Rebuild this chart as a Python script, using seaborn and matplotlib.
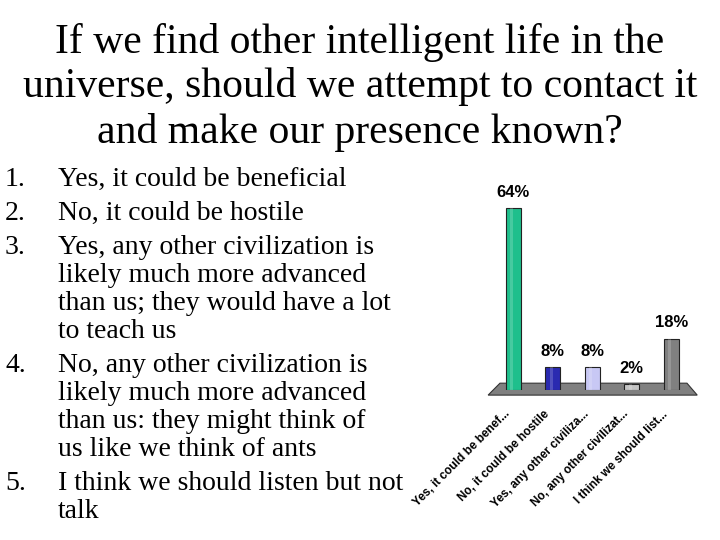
import numpy as np
import pandas as pd
import matplotlib
matplotlib.use("Agg")
import matplotlib.pyplot as plt
import matplotlib.transforms as mtransforms
import seaborn as sns
from matplotlib.patches import Polygon

# ──────────────────────────────────────────────
# Data
# ──────────────────────────────────────────────

TITLE = ("If we find other intelligent life in the\n"
         "universe, should we attempt to contact it\n"
         "and make our presence known?")

answers = [
    "Yes, it could be benef...",
    "No, it could be hostile",
    "Yes, any other civiliza...",
    "No, any other civilizat...",
    "I think we should list...",
]
percents = [64, 8, 8, 2, 18]
bar_colors = ["#1fbf8c", "#2a2ab0", "#c8c8f4", "#c4c4c4", "#808080"]

numbers = ["1.", "2.", "3.", "4.", "5."]
options = [
    ["Yes, it could be beneficial"],
    ["No, it could be hostile"],
    ["Yes, any other civilization is", "likely much more advanced",
     "than us; they would have a lot", "to teach us"],
    ["No, any other civilization is", "likely much more advanced",
     "than us: they might think of", "us like we think of ants"],
    ["I think we should listen but not", "talk"],
]

df = pd.DataFrame({"answer": answers, "pct": percents})

sns.set_style("white")
plt.rcParams["font.family"] = ["Liberation Sans", "DejaVu Sans"]
plt.rcParams["text.color"] = "black"
plt.rcParams["xtick.color"] = "black"

SERIF = ["Liberation Serif", "DejaVu Serif"]

fig = plt.figure(figsize=(7.2, 5.4), dpi=100)

# title
fig.text(0.5, 1 - 87 / 540, TITLE, ha="center", va="center",
         fontsize=30, family=SERIF, linespacing=1.2)

# numbered list on the left
y = 179
for num, lines in zip(numbers, options):
    fig.text(5 / 720, 1 - y / 540, num, ha="left", va="center",
             fontsize=20, family=SERIF)
    for i, line in enumerate(lines):
        fig.text(58 / 720, 1 - (y + i * 27.8) / 540, line, ha="left",
                 va="center", fontsize=20, family=SERIF)
    y += (len(lines) - 1) * 27.8 + 34.5

# bar chart
ax = fig.add_axes([488 / 720, 1 - 390 / 540, 212 / 720, 200 / 540])
ax.patch.set_alpha(0)

# floor
floor = Polygon([(-0.63, -1.8), (4.66, -1.8), (4.4, 2.4), (-0.33, 2.4)],
                closed=True, facecolor="#808080", edgecolor="#333333",
                lw=0.8, zorder=0, clip_on=False, transform=ax.transData)
ax.add_patch(floor)

sns.barplot(data=df, x="answer", y="pct", hue="answer", palette=bar_colors,
            legend=False, width=0.38, edgecolor="#222222", linewidth=0.8,
            saturation=1, ax=ax, zorder=2)

# subtle highlight to hint at cylinder shading
for p in list(ax.patches[1:]):
    x0, w, h = p.get_x(), p.get_width(), p.get_height()
    ax.bar(x0 + w * 0.3, h, width=w * 0.2, bottom=0, align="edge",
           color="white", alpha=0.18, lw=0, zorder=3)

for i, v in enumerate(percents):
    ax.text(i, v + 3.0, f"{v}%", ha="center", va="bottom",
            fontsize=12, fontweight="bold")

ax.set_xlim(-0.633, 4.73)
ax.set_ylim(0, 70.4)
ax.set_xlabel("")
ax.set_ylabel("")
ax.set_yticks([])
ax.tick_params(axis="x", length=0, pad=13)
ax.set_xticks(range(len(answers)))
ax.set_xticklabels(answers, rotation=45, ha="right", rotation_mode="anchor",
                   fontsize=8.5, fontweight="bold")
shift = mtransforms.ScaledTranslation(-9 / 100, 0, fig.dpi_scale_trans)
for lbl in ax.get_xticklabels():
    lbl.set_transform(lbl.get_transform() + shift)
for s in ax.spines.values():
    s.set_visible(False)

fig.savefig("out.png", dpi=100)
